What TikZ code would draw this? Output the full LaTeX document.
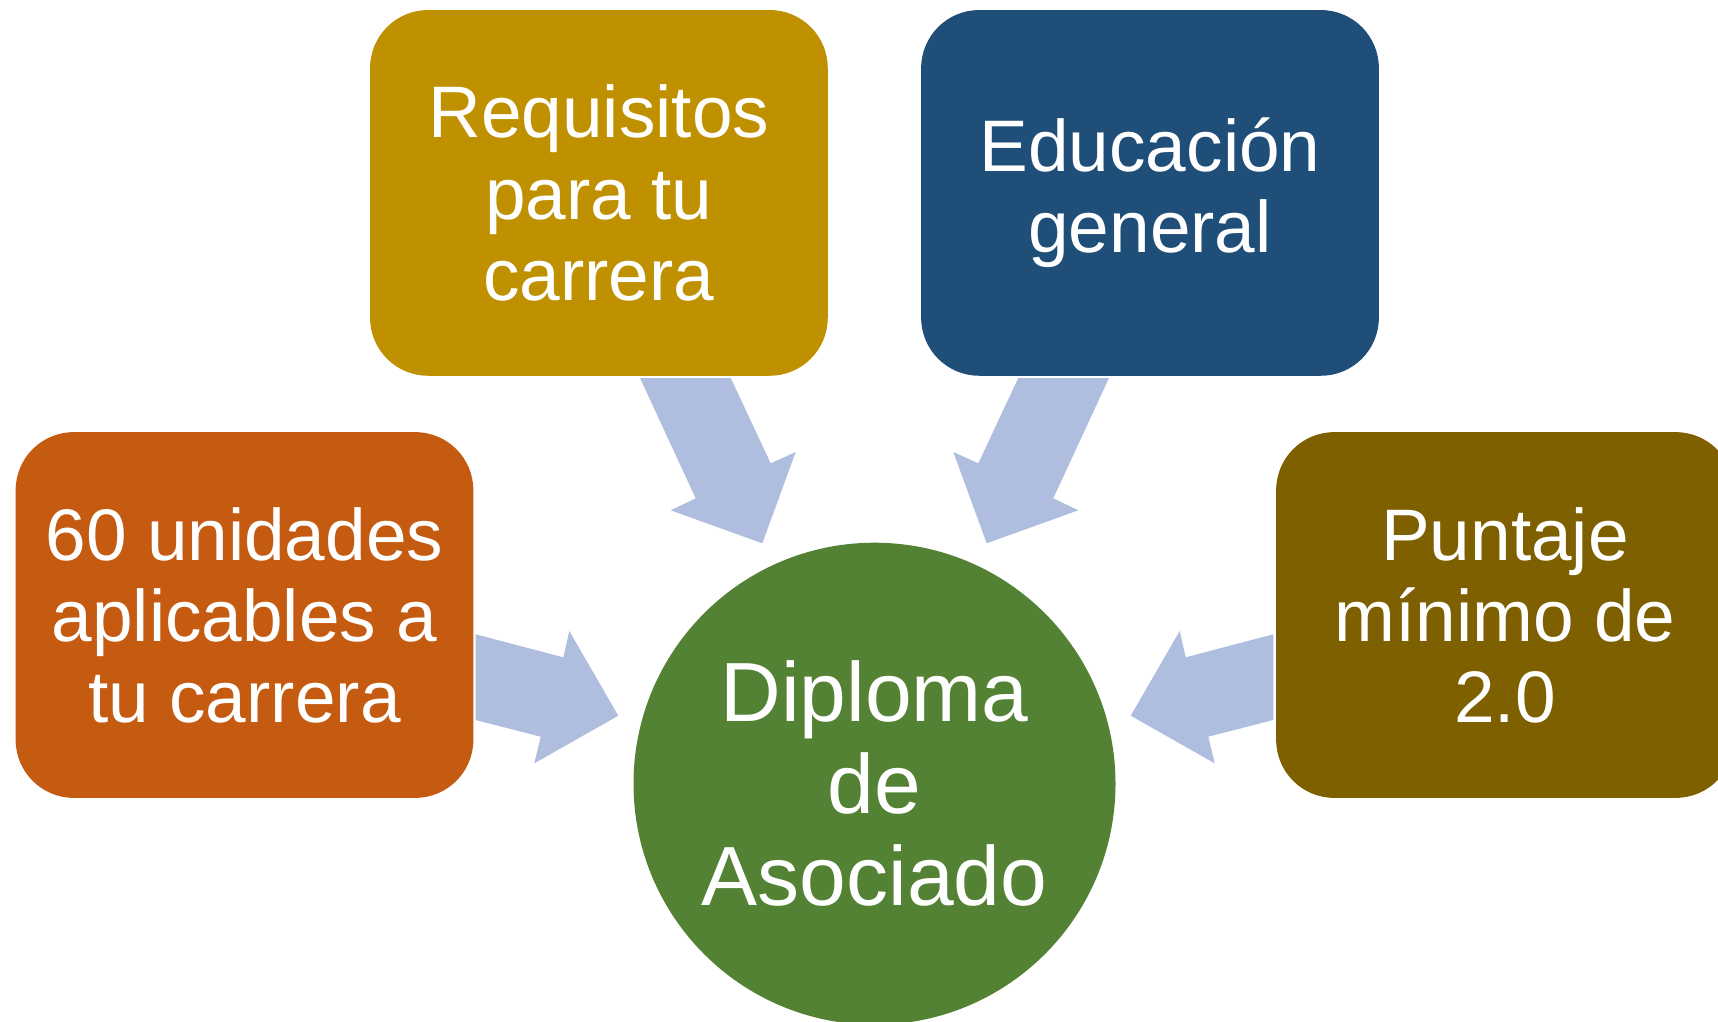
\documentclass[tikz,border=0pt]{standalone}
\usepackage{fontspec}
\setmainfont{Liberation Sans}
\usepackage{tikz}

\definecolor{reqcol}{HTML}{BF9000}
\definecolor{educol}{HTML}{1F4E79}
\definecolor{unicol}{HTML}{C55A11}
\definecolor{puncol}{HTML}{7F6000}
\definecolor{dipcol}{HTML}{548235}
\definecolor{arrcol}{HTML}{AFBDDE}

\begin{document}
\begin{tikzpicture}[x=1pt,y=-1pt]
\tikzstyle{every node}=[inner sep=0pt, text=white, align=center]
\tikzstyle{box}=[rectangle, rounded corners=58pt, minimum width=457.7pt, minimum height=365.7pt, font=\fontsize{73}{81}\selectfont]
\tikzstyle{goal}=[circle, minimum size=482pt, font=\fontsize{84}{92}\selectfont]
\clip (0,0) rectangle (1718,1021);
\useasboundingbox (0,0) rectangle (1718,1021);
\draw (598.9,192.9) node (req) [box,fill=reqcol] {Requisitos\\para tu\\carrera};
\draw (1150,192.9) node (edu) [box,fill=educol] {Educación\\general};
\draw (244.5,615) node (uni) [box,fill=unicol] {60 unidades\\aplicables a\\tu carrera};
\draw (1505,615) node (pun) [box,fill=puncol] {Puntaje\\mínimo de\\2.0};
\draw (874.5,783.7) node (dip) [goal,fill=dipcol] {Diploma\\de\\Asociado};
% block arrows
\fill[arrcol] (640,378) -- (730.7,378) -- (770.7,463.3) -- (795.7,452) -- (762.3,543.3) -- (670.7,510.3) -- (695.7,498.3) -- cycle;
\fill[arrcol] (1109,378) -- (1018.3,378) -- (978.3,463.3) -- (953.3,452) -- (986.7,543.3) -- (1078.3,510.3) -- (1053.3,498.3) -- cycle;
\fill[arrcol] (475.7,634.3) -- (563.3,657.3) -- (569.3,631) -- (618.3,715.7) -- (534.3,763.3) -- (540.7,736.7) -- (475.7,720) -- cycle;
\fill[arrcol] (1273.3,634.3) -- (1185.7,657.3) -- (1179.7,631) -- (1130.7,715.7) -- (1214.7,763.3) -- (1208.3,736.7) -- (1273.3,720) -- cycle;
\end{tikzpicture}
\end{document}
